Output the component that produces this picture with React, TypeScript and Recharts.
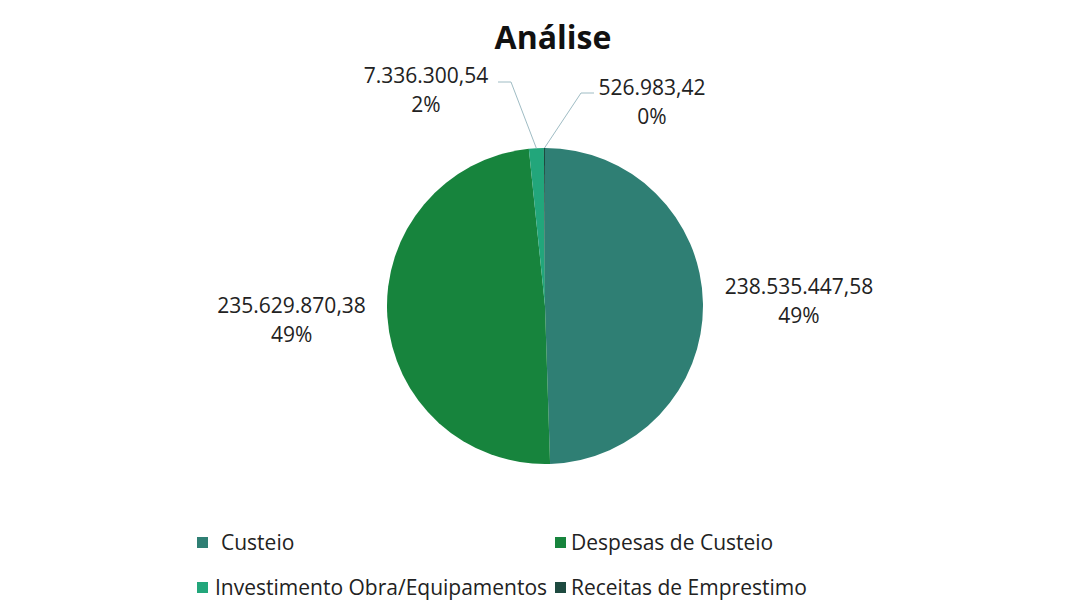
import React from 'react';
import { PieChart, Pie, Cell } from 'recharts';

const categories = ['Custeio', 'Despesas de Custeio', 'Investimento Obra/Equipamentos', 'Receitas de Emprestimo'];
const values = [238535447.58, 235629870.38, 7336300.54, 526983.42];
const colors = ['#2f7f74', '#17843d', '#22a67b', '#1e4a40'];

const data = categories.map((name, i) => ({ name, value: values[i] }));

const FONT = '"Open Sans", Calibri, sans-serif';
const RAD = Math.PI / 180;

// 1234567.8 -> "1.234.567,80"
const formatBR = (v: number) => {
  const [int, dec] = v.toFixed(2).split('.');
  return int.replace(/\B(?=(\d{3})+(?!\d))/g, '.') + ',' + dec;
};

const renderLabel = (props: any) => {
  const { cx, cy, midAngle, outerRadius, index, value, percent } = props;
  const text = formatBR(value);
  const pct = `${Math.round(percent * 100)}%`;
  const cos = Math.cos(-midAngle * RAD);
  const sin = Math.sin(-midAngle * RAD);

  if (index < 2) {
    // big slices: text centred outside the pie, no leader line
    const r = outerRadius + 96;
    const x = cx + r * cos;
    const y = cy + r * sin - (index === 1 ? 2 : 0);
    return (
      <text x={x} y={y - 8} textAnchor="middle" fill="#222" fontSize={21} fontFamily={FONT}>
        <tspan x={x}>{text}</tspan>
        <tspan x={x} dy={29}>{pct}</tspan>
      </text>
    );
  }

  // small slices near the top: pushed apart with an elbow leader line
  const ex = cx + outerRadius * cos;
  const ey = cy + outerRadius * sin;
  const left = index === 2;
  const kx = left ? cx - 34 : cx + 36;
  const ky = cy - outerRadius - (left ? 66 : 55);
  const hx = left ? kx - 13 : kx + 13;
  const tx = left ? hx - 72 : hx + 58;
  const ty = ky + (left ? 1 : 2);
  return (
    <g>
      <polyline points={`${ex},${ey} ${kx},${ky} ${hx},${ky}`} fill="none" stroke="#9fbcc4" strokeWidth={1} />
      <text x={tx} y={ty} textAnchor="middle" fill="#222" fontSize={21} fontFamily={FONT}>
        <tspan x={tx}>{text}</tspan>
        <tspan x={tx} dy={29}>{pct}</tspan>
      </text>
    </g>
  );
};

const legendPos = [
  { left: 197, top: 542, gap: 13 },
  { left: 555, top: 542, gap: 5 },
  { left: 197, top: 587, gap: 7 },
  { left: 555, top: 587, gap: 5 },
];

export default function App() {
  return (
    <div style={{ position: 'fixed', left: 0, top: 0, width: 1070, height: 616, background: '#fff' }}>
      <div
        style={{
          position: 'absolute',
          top: 15,
          left: 0,
          width: 1106,
          textAlign: 'center',
          fontFamily: FONT,
          fontWeight: 700,
          fontSize: 32,
          color: '#111',
        }}
      >
        Análise
      </div>
      <PieChart width={1070} height={616} style={{ position: 'absolute', left: 0, top: 0 }}>
        <Pie
          data={data}
          dataKey="value"
          nameKey="name"
          cx={540}
          cy={301}
          outerRadius={158}
          startAngle={90}
          endAngle={-270}
          stroke="none"
          label={renderLabel}
          labelLine={false}
          isAnimationActive={false}
        >
          {data.map((d, i) => (
            <Cell key={d.name} fill={colors[i]} />
          ))}
        </Pie>
      </PieChart>
      {categories.map((c, i) => (
        <div
          key={c}
          style={{
            position: 'absolute',
            left: legendPos[i].left,
            top: legendPos[i].top - 15,
            height: 30,
            display: 'flex',
            alignItems: 'center',
            fontFamily: FONT,
            fontSize: 21,
            color: '#222',
            whiteSpace: 'nowrap',
          }}
        >
          <span style={{ width: 11, height: 11, background: colors[i], marginRight: legendPos[i].gap, display: 'inline-block' }} />
          {c}
        </div>
      ))}
    </div>
  );
}
